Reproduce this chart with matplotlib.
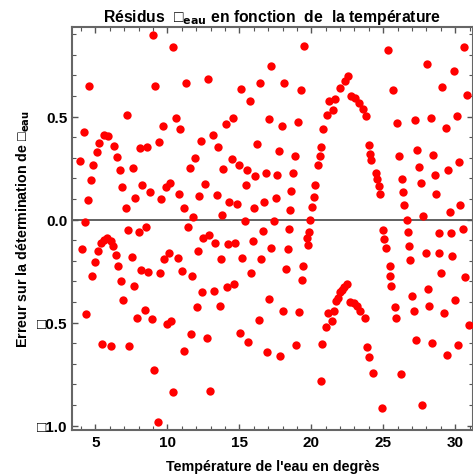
import matplotlib
matplotlib.use('Agg')
import matplotlib.pyplot as plt
from matplotlib.ticker import FixedLocator, MultipleLocator

# Températures (°C) et résidus
temperature = [
    8.99, 4.58, 9.17, 7.20, 4.19, 9.72, 5.63, 5.90, 5.26, 9.40, 6.30, 8.08, 8.61, 5.10, 6.49,
    3.94, 4.84, 6.72, 7.60, 4.68, 6.88, 8.24, 9.89, 8.82, 7.78, 4.51, 9.56, 7.13, 4.26,
    7.27, 8.01, 8.52, 4.10, 5.42, 5.63, 5.83, 6.07, 6.23, 5.17, 6.42, 7.53, 10.15, 9.79, 4.98,
    6.56, 8.15, 8.68, 9.47, 4.75, 6.81, 7.69, 6.94, 8.43, 4.33, 7.87, 8.92, 9.98, 10.28, 5.49,
    6.07, 7.36, 9.10, 10.42, 9.35,
    10.40, 17.23, 11.28, 12.85, 15.12, 16.42, 15.76, 10.63, 10.90, 14.56, 14.08, 17.04, 13.15,
    12.36, 13.50, 16.25, 11.92, 11.56, 14.47, 13.89, 14.96, 15.53, 16.11, 16.83, 10.22, 12.60,
    15.47, 10.81, 12.20, 13.43, 14.31, 14.82, 16.74, 16.02, 11.14, 11.78, 13.82, 15.40,
    11.46, 12.50, 12.92, 13.33, 14.22, 14.72, 15.95, 16.67, 10.72, 12.11, 13.73, 15.19, 16.51,
    17.20, 11.04, 11.69, 15.83, 12.43, 13.22, 14.15, 14.65, 12.04, 13.66, 17.08, 16.35, 11.62,
    12.78, 15.05, 15.63, 16.90, 11.18, 12.99,
    19.51, 18.13, 19.28, 22.55, 22.34, 21.97, 21.65, 21.25, 21.51, 21.07, 20.81, 22.76, 23.06,
    23.33, 23.61, 23.78, 17.97, 19.06, 17.76, 18.87, 20.68, 20.58, 20.45, 23.99, 24.10, 24.15,
    17.64, 18.71, 20.28, 18.61, 17.55, 20.17, 20.07, 18.54, 19.93, 17.39,
    18.47, 19.84, 19.68, 19.77, 18.38, 18.22, 19.42, 19.35, 22.46, 22.27, 22.11, 21.99, 21.88,
    21.74, 21.58, 21.16, 21.42, 21.00, 22.69, 22.94, 23.19, 23.40, 23.71, 18.06, 19.13, 18.96,
    20.74, 17.86, 23.85, 24.04, 24.26, 20.65,
    25.33, 30.63, 28.01, 29.91, 25.65, 29.06, 30.79, 30.14, 25.97, 27.18, 28.31, 29.33, 27.36,
    26.07, 28.47, 30.28, 27.50, 29.47, 28.59, 24.49, 24.56, 24.68, 24.77, 26.30, 27.60, 26.37,
    28.68, 26.44, 30.35, 29.63, 27.76, 26.63,
    25.00, 25.07, 25.17, 26.72, 28.85, 29.72, 30.56, 26.78, 26.85, 27.94, 28.89, 29.79, 25.44,
    25.49, 25.56, 28.99, 30.69, 28.10, 27.01, 29.98, 25.79, 27.11, 28.20, 29.24, 25.88, 30.93,
    27.27, 28.40, 30.21, 29.40, 26.21, 24.91, 27.67,
]
residus = [
    0.897, 0.648, 0.648, 0.510, 0.424, 0.453, 0.413, 0.408, 0.372, 0.379, 0.356, 0.348, 0.354,
    0.327, 0.303, 0.286, 0.264, 0.241, 0.252, 0.191, 0.157, 0.167, 0.157, 0.133, 0.104, 0.094,
    0.099, 0.058, -0.013,
    -0.050, -0.061, -0.037, -0.142, -0.113, -0.099, -0.089, -0.102, -0.126, -0.152, -0.170,
    -0.181, -0.163, -0.192, -0.204, -0.226, -0.243, -0.255, -0.259, -0.272, -0.299, -0.323,
    -0.390, -0.437, -0.459, -0.477, -0.482, -0.506, -0.490, -0.603, -0.615, -0.613, -0.728,
    -0.836, -0.984,
    0.840, 0.745, 0.664, 0.681, 0.636, 0.664, 0.578, 0.492, 0.440, 0.492, 0.463, 0.487, 0.413,
    0.384, 0.354, 0.366, 0.298, 0.252, 0.293, 0.248, 0.264, 0.241, 0.212, 0.225, 0.178, 0.173,
    0.167, 0.126, 0.115, 0.121, 0.087, 0.076, 0.087, 0.058, 0.058, 0.013, 0.024, -0.009,
    -0.037, -0.090, -0.073, -0.113, -0.118, -0.113, -0.102, -0.056, -0.187, -0.152, -0.192,
    -0.187, -0.192, -0.136, -0.248, -0.272, -0.259, -0.350, -0.345, -0.328, -0.311, -0.425,
    -0.419, -0.385, -0.487, -0.556, -0.573, -0.551, -0.592, -0.644, -0.637, -0.832,
    0.845, 0.664, 0.630, 0.696, 0.675, 0.641, 0.584, 0.578, 0.533, 0.510, 0.440, 0.602, 0.592,
    0.568, 0.539, 0.503, 0.453, 0.476, 0.333, 0.309, 0.354, 0.309, 0.264, 0.361, 0.320, 0.288,
    0.218, 0.225, 0.167, 0.141, 0.105, 0.110, 0.060, 0.049, -0.003, -0.008,
    -0.045, -0.061, -0.090, -0.123, -0.142, -0.238, -0.226, -0.294, -0.312, -0.325, -0.340,
    -0.350, -0.379, -0.396, -0.442, -0.454, -0.493, -0.522, -0.401, -0.404, -0.420, -0.442,
    -0.477, -0.442, -0.450, -0.608, -0.602, -0.660, -0.619, -0.665, -0.744, -0.785,
    0.824, 0.840, 0.754, 0.720, 0.628, 0.646, 0.607, 0.503, 0.469, 0.485, 0.492, 0.447, 0.338,
    0.309, 0.316, 0.282, 0.257, 0.241, 0.217, 0.225, 0.196, 0.162, 0.126, 0.196, 0.178, 0.133,
    0.126, 0.070, 0.070, 0.036, 0.019, 0.000,
    -0.050, -0.095, -0.136, -0.061, -0.066, -0.066, -0.044, -0.129, -0.197, -0.163, -0.163,
    -0.175, -0.226, -0.272, -0.323, -0.260, -0.278, -0.335, -0.370, -0.391, -0.425, -0.443,
    -0.420, -0.454, -0.477, -0.511, -0.585, -0.597, -0.608, -0.658, -0.751, -0.916, -0.898,
]

x_ticks = [5, 10, 15, 20, 25, 30]
y_ticks = [-1.0, -0.5, 0.0, 0.5]
y_tick_labels = ['□1.0', '□0.5', '0.0', '0.5']

plt.rcParams['font.family'] = ['Liberation Sans Narrow', 'Liberation Sans', 'DejaVu Sans']
plt.rcParams['font.weight'] = 'bold'
plt.rcParams['mathtext.fontset'] = 'custom'
plt.rcParams['mathtext.rm'] = 'Liberation Sans Narrow:bold'
plt.rcParams['mathtext.it'] = 'Liberation Sans Narrow:bold'
plt.rcParams['mathtext.bf'] = 'Liberation Sans Narrow:bold'

fig = plt.figure(figsize=(4.73, 4.77), dpi=100)
ax = fig.add_axes([72 / 473, 1 - 431 / 477, 401 / 473, 403 / 477])

ax.axhline(0, color='#555555', linewidth=1.3, zorder=1)
ax.plot(temperature, residus, 'o', color='#ff0000', markersize=6,
        markeredgewidth=0, zorder=3, clip_on=False)

ax.set_xlim(3.38, 31.23)
ax.set_ylim(-1.021, 0.935)

ax.xaxis.set_major_locator(FixedLocator(x_ticks))
ax.xaxis.set_minor_locator(MultipleLocator(1))
ax.yaxis.set_major_locator(FixedLocator(y_ticks))
ax.set_yticklabels(y_tick_labels)
ax.yaxis.set_minor_locator(MultipleLocator(0.1))
ax.tick_params(which='both', direction='in', top=True, right=True,
               color='#555555', labelsize=11)
ax.tick_params(which='major', length=4.5, width=1)
ax.tick_params(which='minor', length=2.8, width=0.8)
for s in ax.spines.values():
    s.set_color('#666666')
    s.set_linewidth(1.5)

ax.set_title('Résidus  □$_{eau}$ en fonction  de  la température',
             fontsize=11.3, fontweight='bold', pad=4)
ax.set_xlabel("Température de l'eau en degrès", fontsize=10.3, fontweight='bold', labelpad=7)
ax.set_ylabel('Erreur sur la détermination de □$_{eau}$', fontsize=10.3, fontweight='bold',
              labelpad=3)

fig.savefig('out.png', dpi=100)
